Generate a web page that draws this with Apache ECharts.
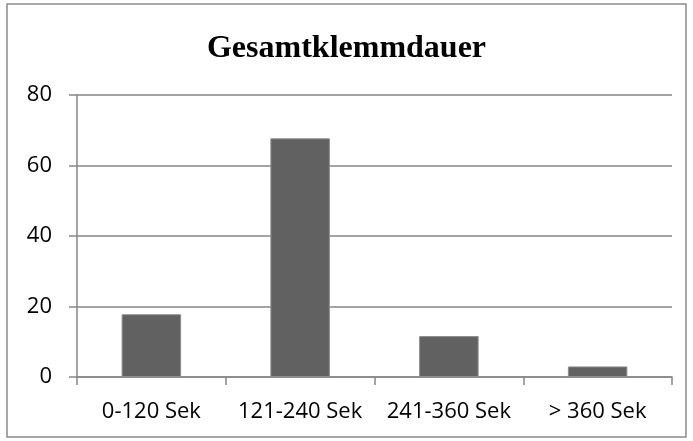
<!DOCTYPE html>
<html>
<head>
<meta charset="utf-8">
<script src="https://cdn.jsdelivr.net/npm/echarts@6/dist/echarts.min.js"></script>
<style>
  html, body { margin: 0; padding: 0; background: #fff; }
  #chart { width: 693px; height: 441px; }
</style>
</head>
<body>
<div id="chart"></div>
<script>
var categories = ["0-120 Sek", "121-240 Sek", "241-360 Sek", "> 360 Sek"];
var values = [17.8, 67.7, 11.6, 3.0];
var yTicks = [0, 20, 40, 60, 80];

var myChart = echarts.init(document.getElementById('chart'));
var axisGray = '#868686';

var option = {
    animation: false,
    backgroundColor: '#fff',
    title: {
        text: 'Gesamtklemmdauer',
        left: 'center',
        top: 28,
        textStyle: {
            fontFamily: 'Liberation Serif',
            fontWeight: 'bold',
            fontSize: 32,
            color: '#000'
        }
    },
    graphic: [{
        type: 'rect',
        shape: { x: 7, y: 4, width: 679, height: 433 },
        style: { fill: 'none', stroke: '#8a8a8a', lineWidth: 1.5 }
    }],
    grid: { left: 77, right: 21, top: 95, bottom: 64 },
    xAxis: {
        type: 'category',
        data: categories,
        axisLine: { lineStyle: { color: axisGray, width: 1.5 } },
        axisTick: { show: true, length: 8, lineStyle: { color: axisGray, width: 1.5 } },
        axisLabel: {
            fontFamily: 'Open Sans',
            fontSize: 22,
            color: '#000',
            margin: 24,
            interval: 0
        }
    },
    yAxis: {
        type: 'value',
        min: yTicks[0],
        max: yTicks[yTicks.length - 1],
        interval: 20,
        axisLine: { show: true, lineStyle: { color: axisGray, width: 1.5 } },
        axisTick: { show: true, length: 8, lineStyle: { color: axisGray, width: 1.5 } },
        splitLine: { lineStyle: { color: axisGray, width: 1.5 } },
        axisLabel: {
            fontFamily: 'Open Sans',
            fontSize: 22,
            color: '#000',
            margin: 25
        }
    },
    series: [{
        type: 'bar',
        data: values,
        barCategoryGap: '60%',
        itemStyle: { color: '#616161', borderColor: '#8c8c8c', borderWidth: 1 }
    }]
};

myChart.setOption(option);
</script>
</body>
</html>
